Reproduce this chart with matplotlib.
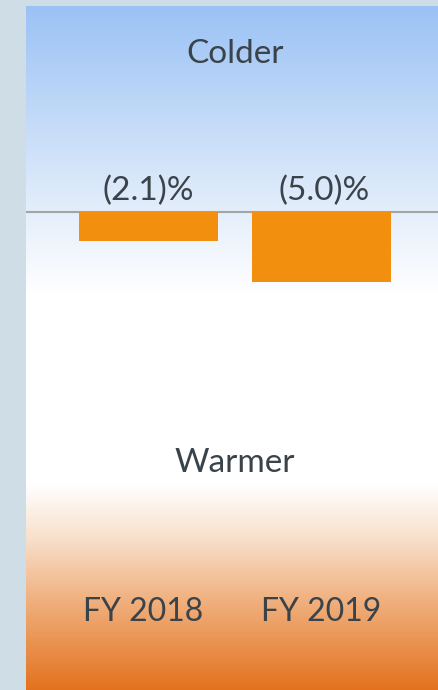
import numpy as np
import matplotlib.pyplot as plt
from matplotlib.colors import to_rgb

# weather impact on volumes, percent (negative = colder than normal)
years = ["FY 2018", "FY 2019"]
impact = [-2.1, -5.0]
labels = ["(2.1)%", "(5.0)%"]

plt.rcParams['font.family'] = ['Lato', 'DejaVu Sans']
text_color = "#3a4349"

fig = plt.figure(figsize=(4.38, 6.90), dpi=100)
fig.patch.set_facecolor("#cfdde7")
ax = fig.add_axes([26 / 438, 0, 412 / 438, 684 / 690])

ymax, ymin = 14.71, -34.14
xmin, xmax = -0.708, 1.673
ax.set_xlim(xmin, xmax)
ax.set_ylim(ymin, ymax)
ax.axis("off")

# vertical background gradient: blue on top, white in the middle, orange below
stops = [0.0, 0.30, 0.42, 0.70, 0.78, 0.87, 1.0]
cols = ["#9bc2f5", "#e4eefb", "#ffffff", "#ffffff", "#f8dfca", "#f0b07e", "#e3721e"]
rgb = np.array([to_rgb(c) for c in cols])
t = np.linspace(0, 1, 684)
grad = np.stack([np.interp(t, stops, rgb[:, k]) for k in range(3)], axis=1)
ax.imshow(grad[:, None, :], extent=[xmin, xmax, ymin, ymax], aspect="auto",
          zorder=0, interpolation="bilinear")

ax.axhline(0, color="#a3a3a3", lw=1.5, zorder=2)

x = np.arange(len(years))
ax.bar(x, impact, width=0.803, color="#f28f0e", zorder=3)

for xi, lab in zip(x, labels):
    ax.text(xi + 0.015 * xi, 0.45, lab, ha="center", va="bottom", fontsize=24,
            color=text_color)

for xi, yr in zip(x, years):
    ax.text(xi - 0.03 + 0.03 * xi, -28.6, yr, ha="center", va="center",
            fontsize=23, color=text_color)

ax.text(0.5, 11.3, "Colder", ha="center", va="center", fontsize=24, color=text_color)
ax.text(0.5, -17.9, "Warmer", ha="center", va="center", fontsize=24, color=text_color)

fig.savefig("out.png", dpi=100, facecolor=fig.get_facecolor())
